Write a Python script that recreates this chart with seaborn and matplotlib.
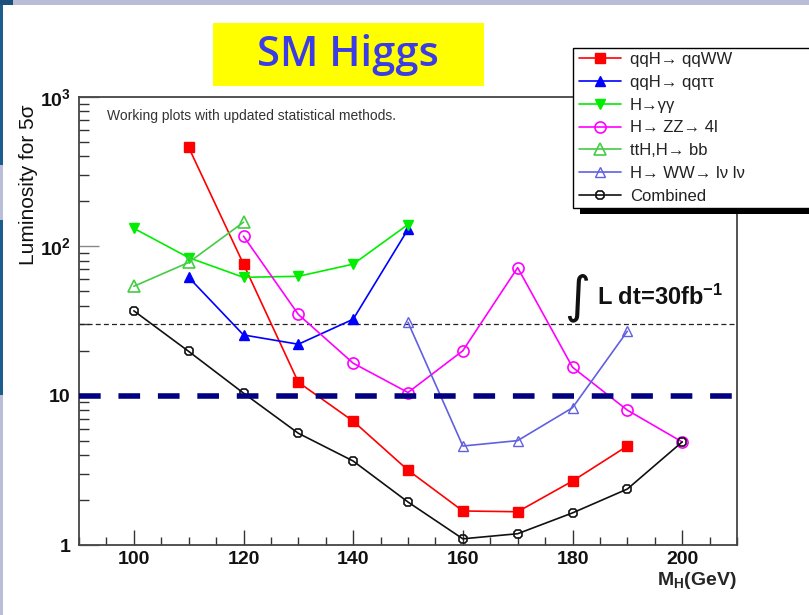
import matplotlib
matplotlib.use("Agg")
import matplotlib.pyplot as plt
import seaborn as sns
from matplotlib.patches import Rectangle
from matplotlib.ticker import MultipleLocator, LogLocator, NullFormatter

# ---------------- data ----------------
mass_qqww = [110, 120, 130, 140, 150, 160, 170, 180, 190]
lumi_qqww = [460, 76, 12.3, 6.75, 3.17, 1.69, 1.67, 2.68, 4.6]

mass_qqtt = [110, 120, 130, 140, 150]
lumi_qqtt = [62, 25.5, 22.1, 32.5, 130]

mass_gg = [100, 110, 120, 130, 140, 150]
lumi_gg = [132, 84, 62, 63, 76, 140]

mass_zz = [120, 130, 140, 150, 160, 170, 180, 190, 200]
lumi_zz = [117, 35, 16.5, 10.5, 20, 72, 15.5, 8.0, 4.9]

mass_tth = [100, 110, 120]
lumi_tth = [54, 78, 145]

mass_ww = [150, 160, 170, 180, 190]
lumi_ww = [31, 4.6, 5.0, 8.3, 27]

mass_comb = [100, 110, 120, 130, 140, 150, 160, 170, 180, 190, 200]
lumi_comb = [37, 19.8, 10.4, 5.6, 3.65, 1.94, 1.10, 1.19, 1.64, 2.37, 4.9]

labels = ["qqH\u2192 qqWW", "qqH\u2192 qq\u03c4\u03c4", "H\u2192\u03b3\u03b3",
          "H\u2192 ZZ\u2192 4l", "ttH,H\u2192 bb", "H\u2192 WW\u2192 l\u03bd l\u03bd",
          "Combined"]

lumi_30fb = 30
lumi_target = 10

# ---------------- style ----------------
sns.set_theme(style="white")
plt.rcParams["font.family"] = ["Liberation Sans", "DejaVu Sans"]
plt.rcParams["mathtext.fontset"] = "custom"
plt.rcParams["mathtext.rm"] = "Liberation Sans"
plt.rcParams["mathtext.bf"] = "Liberation Sans:bold"
plt.rcParams["mathtext.it"] = "Liberation Sans:italic"

W, H = 809, 615
fig = plt.figure(figsize=(W / 100, H / 100), dpi=100)
fig.patch.set_facecolor("white")


def fx(px):
    return px / W


def fy(py):
    return 1 - py / H


# slide decorations
fig.add_artist(Rectangle((0, fy(5)), 1, fy(0) - fy(5), transform=fig.transFigure,
                         facecolor="#b9bdd8", edgecolor="none", zorder=0))
fig.add_artist(Rectangle((0, fy(5)), fx(13), fy(0) - fy(5), transform=fig.transFigure,
                         facecolor="#1b4f7c", edgecolor="none", zorder=0))
fig.add_artist(Rectangle((0, fy(615)), fx(3), fy(395) - fy(615), transform=fig.transFigure,
                         facecolor="#b9bdd8", edgecolor="none", zorder=0))
fig.add_artist(Rectangle((0, fy(395)), fx(3), fy(5) - fy(395), transform=fig.transFigure,
                         facecolor="#1b5e8e", edgecolor="none", zorder=0))
fig.add_artist(Rectangle((0, fy(220)), fx(3), fy(165) - fy(220), transform=fig.transFigure,
                         facecolor="#b9bdd8", edgecolor="none", zorder=0))

ax = fig.add_axes([fx(79), fy(545), fx(737) - fx(79), fy(97) - fy(545)])
ax.set_yscale("log")
ax.set_xlim(90, 210)
ax.set_ylim(1, 1000)

series = [
    (mass_qqww, lumi_qqww, labels[0], "#ff0000", "s", "#ff0000", 6.5, 1.0),
    (mass_qqtt, lumi_qqtt, labels[1], "#0000ff", "^", "#0000ff", 7, 1.0),
    (mass_gg, lumi_gg, labels[2], "#00ee00", "v", "#00ee00", 7, 1.0),
    (mass_zz, lumi_zz, labels[3], "#ff00ff", "o", "none", 8, 1.2),
    (mass_tth, lumi_tth, labels[4], "#44cc44", "^", "none", 9, 1.2),
    (mass_ww, lumi_ww, labels[5], "#6060e0", "^", "none", 6.5, 1.0),
    (mass_comb, lumi_comb, labels[6], "#111111", "8", "none", 7, 1.2),
]

for xs, ys, lab, col, mk, mfc, ms, mew in series:
    sns.lineplot(x=xs, y=ys, ax=ax, label=lab, color=col, marker=mk,
                 markersize=ms, markerfacecolor=mfc, markeredgecolor=col,
                 markeredgewidth=mew, linewidth=1.2, estimator=None, sort=False)
    line = ax.lines[-1]
    line.set_markerfacecolor(mfc)
    line.set_markeredgecolor(col)
    line.set_color(col)

if ax.get_legend() is not None:
    ax.get_legend().remove()

# reference lines
ax.axhline(lumi_30fb, color="#222222", lw=0.9, dashes=(4, 2.5), zorder=1)
ax.axhline(lumi_target, color="#000080", lw=4, dashes=(3.9, 3.2), zorder=5)

# axes styling
for sp in ax.spines.values():
    sp.set_color("#444444")
    sp.set_linewidth(1.3)
    sp.set_visible(True)

ax.xaxis.set_major_locator(MultipleLocator(20))
ax.xaxis.set_minor_locator(MultipleLocator(5))
ax.yaxis.set_major_locator(LogLocator(base=10, numticks=10))
ax.yaxis.set_minor_locator(LogLocator(base=10, subs=[2, 3, 4, 5, 6, 7, 8, 9], numticks=20))
ax.yaxis.set_minor_formatter(NullFormatter())
ax.set_yticks([1, 10, 100, 1000])
ax.set_yticklabels(["1", "10", r"$\mathbf{10^{2}}$", r"$\mathbf{10^{3}}$"])
ax.set_ylim(1, 1000)

ax.tick_params(axis="x", which="major", direction="in", length=10.5, width=1,
               color="#333333", bottom=True, top=False, labelsize=14, pad=4)
ax.tick_params(axis="x", which="minor", direction="in", length=5.8, width=1,
               color="#333333", bottom=True, top=False)
ax.tick_params(axis="y", which="major", direction="in", length=14.4, width=1,
               color="#888888", left=True, right=False, labelsize=14, pad=6)
ax.tick_params(axis="y", which="minor", direction="in", length=7.2, width=1,
               color="#333333", left=True, right=False)
for t in ax.get_xticklabels() + ax.get_yticklabels():
    t.set_fontweight("bold")
    t.set_color("#111111")

ax.set_xlabel(r"$\mathbf{M_{H}(GeV)}$", fontsize=14, ha="right", va="top")
ax.xaxis.set_label_coords(1.0, -0.056)
ax.set_ylabel("Luminosity for 5\u03c3", fontsize=15, color="#111111")
ax.yaxis.set_label_coords(-0.062, 0.805)

ax.text(fx(107), fy(116), "Working plots with updated statistical methods.",
        transform=fig.transFigure, fontsize=10, color="#333333", va="center", ha="left")

# integral annotation
fig.text(fx(577), fy(298), "\u222b", fontsize=36, family="DejaVu Sans",
         ha="center", va="center", color="#111111")
fig.text(fx(597), fy(305), r"L dt=30fb$^{\mathbf{-1}}$", fontsize=17, fontweight="bold",
         ha="left", va="baseline", color="#111111")

# title box
fig.add_artist(Rectangle((fx(213), fy(86)), fx(484) - fx(213), fy(23) - fy(86),
                         transform=fig.transFigure, facecolor="#ffff00",
                         edgecolor="none", zorder=2))
fig.text(fx(348), fy(55), "SM Higgs", fontsize=30, family="Open Sans",
         fontweight="semibold", color="#3b3be8", ha="center", va="center", zorder=3)

# legend with frame and shadow
fig.add_artist(Rectangle((fx(580), fy(214)), fx(820) - fx(580), fy(208) - fy(214),
                         transform=fig.transFigure, facecolor="black",
                         edgecolor="none", zorder=3))
fig.add_artist(Rectangle((fx(573), fy(208)), fx(820) - fx(573), fy(48) - fy(208),
                         transform=fig.transFigure, facecolor="white",
                         edgecolor="black", lw=1, zorder=3))
handles, labs = ax.get_legend_handles_labels()
leg = fig.legend(handles, labs, loc="upper left", bbox_to_anchor=(fx(579), fy(52)),
                 frameon=False, fontsize=12, handlelength=2.5, handletextpad=0.55,
                 labelspacing=0.47, borderaxespad=0, borderpad=0, numpoints=1)
leg.set_zorder(6)
for t in leg.get_texts():
    t.set_color("#222222")

fig.savefig("out.png", dpi=100)
